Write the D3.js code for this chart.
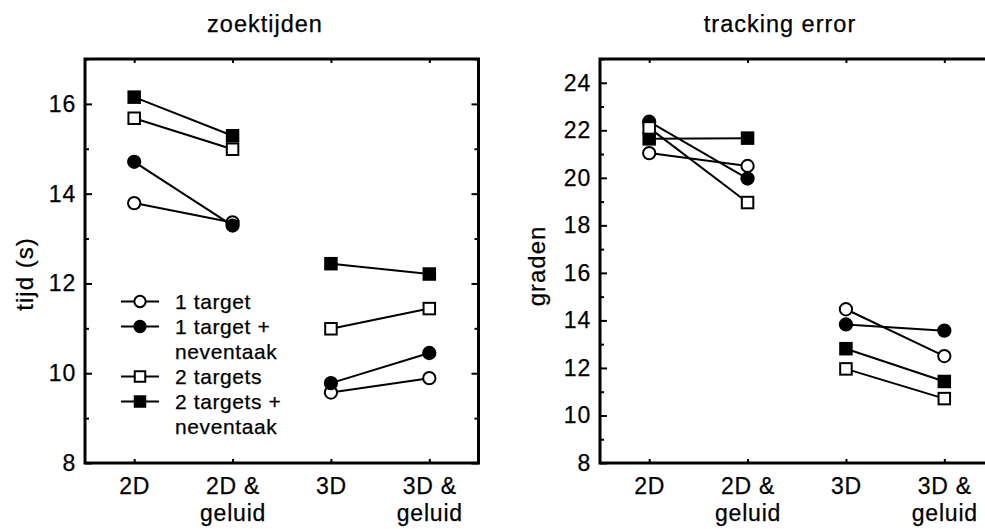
<!DOCTYPE html>
<html>
<head>
<meta charset="utf-8">
<script src="https://cdn.jsdelivr.net/npm/d3@7"></script>
<style>
  body { margin: 0; background: #fff; }
  svg { display: block; }
  text { font-family: "Liberation Sans", Arial, Helvetica, sans-serif; fill: #000; stroke: #000; stroke-width: 0.25; }
  .tick line { stroke: #000; stroke-width: 2; }
</style>
</head>
<body>
<svg id="chart" width="985" height="529"></svg>
<script>
// conditions on the x axis (\n = line break)
const categories = ["2D", "2D &\ngeluid", "3D", "3D &\ngeluid"];

// legend names, same order as the series arrays below
const seriesNames = ["1 target", "1 target +\nneventaak", "2 targets", "2 targets +\nneventaak"];

// zoektijden (s)
const searchOneTarget = [13.79, 13.36, 9.57, 9.89];
const searchOneTargetNev = [14.71, 13.29, 9.78, 10.45];
const searchTwoTargets = [15.68, 14.99, 10.99, 11.44];
const searchTwoTargetsNev = [16.15, 15.29, 12.44, 12.21];

// tracking error (graden)
const trackOneTarget = [21.04, 20.5, 14.47, 12.5];
const trackOneTargetNev = [22.36, 19.97, 13.83, 13.57];
const trackTwoTargets = [22.1, 18.96, 11.96, 10.71];
const trackTwoTargetsNev = [21.64, 21.67, 12.81, 11.43];

// tick values
const searchTicks = [8, 10, 12, 14, 16];
const searchMinor = [9, 11, 13, 15, 17];
const trackTicks = [8, 10, 12, 14, 16, 18, 20, 22, 24];
const trackMinor = [9, 11, 13, 15, 17, 19, 21, 23, 25];

// marker style per series: open/filled circle/square
const markers = [
  { shape: "circle", fill: "#fff" },
  { shape: "circle", fill: "#000" },
  { shape: "square", fill: "#fff" },
  { shape: "square", fill: "#000" }
];
// draw order so overlapping markers stack like the original
const drawOrder = [0, 1, 3, 2];

const panels = [
  { left: 85, title: "zoektijden", ylabel: "tijd (s)", labelX: 33, labelY: 274,
    domain: [8, 17], ticks: searchTicks, minor: searchMinor,
    series: [searchOneTarget, searchOneTargetNev, searchTwoTargets, searchTwoTargetsNev], legend: true },
  { left: 600, title: "tracking error", ylabel: "graden", labelX: 545, labelY: 266,
    domain: [8, 25], ticks: trackTicks, minor: trackMinor,
    series: [trackOneTarget, trackOneTargetNev, trackTwoTargets, trackTwoTargetsNev], legend: false }
];

const svg = d3.select("#chart");
const plotW = 393.5, plotTop = 59, plotBottom = 463;

function drawMarker(g, m, cx, cy, size) {
  const h = size / 2;
  if (m.shape === "circle") {
    g.append("circle").attr("cx", cx).attr("cy", cy).attr("r", h + 0.4)
      .attr("fill", m.fill).attr("stroke", "#000").attr("stroke-width", 2);
  } else {
    g.append("rect").attr("x", cx - h).attr("y", cy - h).attr("width", size).attr("height", size)
      .attr("fill", m.fill).attr("stroke", "#000").attr("stroke-width", 2);
  }
}

panels.forEach(p => {
  const x = d3.scaleLinear().domain([0.5, 4.5]).range([p.left, p.left + plotW]);
  const y = d3.scaleLinear().domain(p.domain).range([plotBottom, plotTop]);
  const g = svg.append("g");

  // left axis, inward ticks
  g.append("g").attr("transform", `translate(${p.left},0)`)
    .call(d3.axisLeft(y).tickValues(p.ticks).tickSize(-7).tickPadding(9).tickFormat(d3.format("d")))
    .call(a => a.select(".domain").remove())
    .selectAll("text").attr("font-size", 23).attr("letter-spacing", 0.8);
  g.append("g").attr("transform", `translate(${p.left},0)`)
    .call(d3.axisLeft(y).tickValues(p.minor).tickSize(-4).tickFormat(""))
    .call(a => a.select(".domain").remove());

  // right side ticks, no labels
  g.append("g").attr("transform", `translate(${p.left + plotW},0)`)
    .call(d3.axisRight(y).tickValues(p.ticks).tickSize(-7).tickFormat(""))
    .call(a => a.select(".domain").remove());
  g.append("g").attr("transform", `translate(${p.left + plotW},0)`)
    .call(d3.axisRight(y).tickValues(p.minor).tickSize(-4).tickFormat(""))
    .call(a => a.select(".domain").remove());

  // top ticks
  g.append("g").attr("transform", `translate(0,${plotTop})`)
    .call(d3.axisTop(x).tickValues([1, 2, 3, 4]).tickSize(-4).tickFormat(""))
    .call(a => a.select(".domain").remove());

  // bottom axis with two-line category labels
  g.append("g").attr("transform", `translate(0,${plotBottom})`)
    .call(d3.axisBottom(x).tickValues([1, 2, 3, 4]).tickSize(-4).tickFormat(""))
    .call(a => a.select(".domain").remove())
    .selectAll(".tick text")
    .each(function (d) {
      const t = d3.select(this).attr("y", null).attr("dy", null)
        .attr("font-size", 23).attr("letter-spacing", 0.8);
      categories[d - 1].split("\n").forEach((line, i) => {
        t.append("tspan").attr("x", 0).attr("y", 31 + i * 27).text(line);
      });
    });

  // frame
  g.append("rect").attr("x", p.left).attr("y", plotTop).attr("width", plotW).attr("height", plotBottom - plotTop)
    .attr("fill", "none").attr("stroke", "#000").attr("stroke-width", 3);

  // title and y label
  g.append("text").attr("x", p.left + 180).attr("y", 32).attr("text-anchor", "middle")
    .attr("font-size", 23.5).attr("letter-spacing", 1).text(p.title);
  g.append("text").attr("transform", `translate(${p.labelX},${p.labelY}) rotate(-90)`)
    .attr("text-anchor", "middle").attr("font-size", 24).attr("letter-spacing", 1).text(p.ylabel);

  // series: lines join 2D -> 2D & geluid and 3D -> 3D & geluid
  drawOrder.forEach(si => {
    const vals = p.series[si];
    const sg = g.append("g");
    [[0, 1], [2, 3]].forEach(([a, b]) => {
      sg.append("line")
        .attr("x1", x(a + 1)).attr("y1", y(vals[a]))
        .attr("x2", x(b + 1)).attr("y2", y(vals[b]))
        .attr("stroke", "#000").attr("stroke-width", 2);
    });
    vals.forEach((v, i) => drawMarker(sg, markers[si], x(i + 1), y(v), 11.5));
  });

  // legend
  if (p.legend) {
    const lg = g.append("g");
    let row = 0;
    seriesNames.forEach((name, si) => {
      const cy = 301.5 + row * 25;
      lg.append("line").attr("x1", 121).attr("x2", 159).attr("y1", cy).attr("y2", cy)
        .attr("stroke", "#000").attr("stroke-width", 2);
      drawMarker(lg, markers[si], 140, cy, 10.5);
      name.split("\n").forEach(line => {
        lg.append("text").attr("x", 175).attr("y", 301.5 + row * 25).attr("dy", "0.36em")
          .attr("font-size", 21).attr("letter-spacing", 0.6).text(line);
        row++;
      });
    });
  }
});
</script>
</body>
</html>
